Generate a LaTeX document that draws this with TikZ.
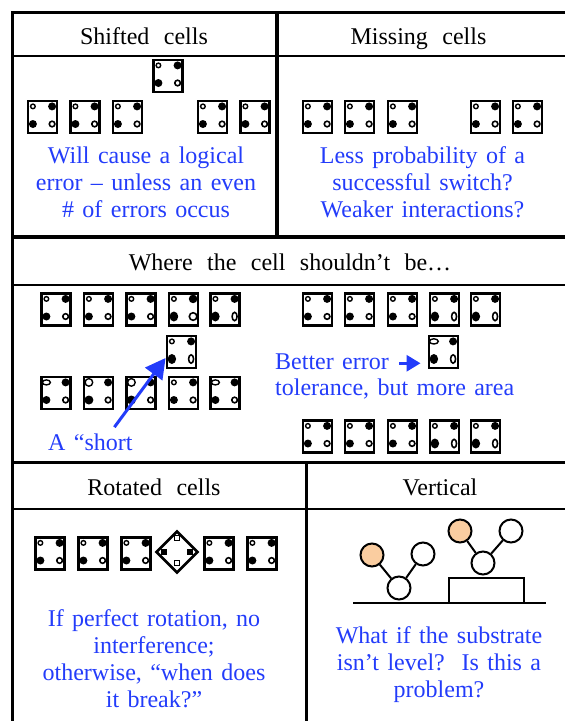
\documentclass[tikz,border=0pt]{standalone}
\usepackage{fontspec}
\setmainfont{Liberation Serif}[WordSpace=1.4]
\newfontfamily\headfont{Liberation Serif}[WordSpace=2.4]
\usetikzlibrary{arrows.meta,calc,shapes.geometric}

\definecolor{noteblue}{RGB}{35,60,250}
\definecolor{peach}{RGB}{250,205,160}

% a quantum-dot cell: hollow/filled dots, each given as ellipse radii
\tikzset{
  qcell/.style n args={4}{draw, line width=2.9pt, fill=white, inner sep=0pt,
    minimum width=29pt, minimum height=32pt,
    path picture={
      \draw[black, line width=1.4pt] ([shift={(-9.6,-10.6)}]path picture bounding box.center) ellipse (#1);
      \fill[black] ([shift={(9.6,-10.6)}]path picture bounding box.center) ellipse (#2);
      \fill[black] ([shift={(-9.6,7)}]path picture bounding box.center) ellipse (#3);
      \draw[black, line width=1.6pt] ([shift={(9.6,7)}]path picture bounding box.center) ellipse (#4);
    }},
  cell/.style={qcell={2.3pt and 2.3pt}{4pt and 4pt}{4pt and 4pt}{2.8pt and 2.8pt}},
  warpcell/.style={qcell={2.3pt and 2.3pt}{4.3pt and 4.3pt}{4.3pt and 5pt}{3.8pt and 3.8pt}},
  ovalcell/.style={qcell={2.3pt and 2.3pt}{4pt and 4pt}{4.2pt and 5pt}{2.5pt and 4.2pt}},
  flatcell/.style={qcell={4pt and 2.5pt}{4pt and 4pt}{4pt and 4pt}{2.8pt and 2.8pt}},
  bigcell/.style={qcell={3.8pt and 3.8pt}{4pt and 4pt}{4.5pt and 4.5pt}{2.8pt and 2.8pt}},
  skewcell/.style={qcell={4.4pt and 2.6pt}{4pt and 4pt}{4.2pt and 5pt}{2.5pt and 4.2pt}},
}

\begin{document}
\begin{tikzpicture}[
  x=1pt, y=-1pt,
  frame/.style={line width=3.5pt},
  rule/.style={line width=2pt},
  head/.style={font=\headfont\fontsize{24}{27}\selectfont, inner sep=0pt},
  note/.style={text=noteblue, font=\fontsize{24}{27}\selectfont, inner sep=0pt, align=center},
  pointer/.style={draw=noteblue, line width=3pt, -{Triangle[length=20pt,width=21pt]}},
  smallpointer/.style={draw=noteblue, line width=3pt, -{Triangle[length=14pt,width=16pt]}},
  rotcell/.style={diamond, shape aspect=1, draw, line width=2.6pt, fill=white,
    inner sep=0pt, minimum size=42pt,
    path picture={
      \draw[black, line width=1.3pt] ([shift={(0,-14)}]path picture bounding box.center) +(-2.3,-2.3) rectangle +(2.3,2.3);
      \fill[black] ([shift={(-13,0)}]path picture bounding box.center) +(-3.4,-3.4) rectangle +(3.4,3.4);
      \fill[black] ([shift={(13,0)}]path picture bounding box.center) +(-3.4,-3.4) rectangle +(3.4,3.4);
      \draw[black, line width=1.3pt] ([shift={(0,11)}]path picture bounding box.center) +(-2.3,-2.3) rectangle +(2.3,2.3);
    }},
  ring/.style={circle, draw, line width=2pt, fill=white, minimum size=23pt, inner sep=0pt},
  bond/.style={line width=2pt},
  ]

  \useasboundingbox (0,0) rectangle (565,721);
  \clip (0,0) rectangle (565,721);

  % table rules
  \draw[frame] (12.5,760) -- (12.5,12.5) -- (600,12.5);
  \draw[frame] (12.5,237) -- (600,237);
  \draw[frame] (12.5,462.5) -- (600,462.5);
  \draw[frame] (277,12.5) -- (277,237);
  \draw[frame] (306.5,462.5) -- (306.5,760);
  \draw[rule] (12.5,55.5) -- (600,55.5);
  \draw[rule] (12.5,285) -- (600,285);
  \draw[rule] (12.5,509) -- (600,509);

  \node[head, anchor=base] (shifted) at (144,44.5) {Shifted cells};
  \node[head, anchor=base] (missing) at (418.5,44.5) {Missing cells};
  \node[head, anchor=base] (where) at (290,270) {Where the cell shouldn’t be…};
  \node[head, anchor=base] (rotated) at (154,495) {Rotated cells};
  \node[head, anchor=base] (vertical) at (440,495) {Vertical};

  % shifted / missing
  \foreach \x [count=\i] in {42.5,85,127.5,212.5,255}
    \node[cell] (sh\i) at (\x,117) {};
  \node[cell] (shup) at (168,76) {};
  \foreach \x [count=\i] in {317.5,359.5,402.5,485.5,527.5}
    \node[cell] (ms\i) at (\x,117) {};

  \node[note, anchor=north] (shnote) at (146,146.6) {Will cause a logical\\error – unless an even\\\# of errors occus};
  \node[note, anchor=north] (msnote) at (422.5,146.6) {Less probability of a\\successful switch?\\Weaker interactions?};

  % stray cell between two rows
  \foreach \x [count=\i] in {56,98.5,141}
    \node[cell] (wt\i) at (\x,309.5) {};
  \node[warpcell] (wt4) at (183.5,309.5) {};
  \node[ovalcell] (wt5) at (225,309.5) {};
  \node[ovalcell] (wmid) at (181.5,352) {};
  \node[flatcell] (wb1) at (56,393) {};
  \node[bigcell] (wb2) at (98.5,393) {};
  \node[bigcell] (wb3) at (141,393) {};
  \node[cell] (wb4) at (183.5,393) {};
  \node[flatcell] (wb5) at (225,393) {};

  \foreach \x [count=\i] in {317.5,359.5,402.5}
  {
    \node[cell] (rt\i) at (\x,309.5) {};
    \node[cell] (rb\i) at (\x,436.5) {};
  }
  \node[ovalcell] (rt4) at (444.5,309.5) {};
  \node[ovalcell] (rt5) at (485.5,309.5) {};
  \node[ovalcell] (rb4) at (444.5,436.5) {};
  \node[ovalcell] (rb5) at (485.5,436.5) {};
  \node[skewcell] (rmid) at (443.5,352) {};

  \node[note, anchor=base west] (short) at (48,450) {A “short};
  \node[note, anchor=base west] (better) at (275,369) {Better error};
  \node[note, anchor=base west] (tol) at (275,395) {tolerance, but more area};

  \draw[pointer] ([xshift=24pt,yshift=6pt]short.north) -- ([yshift=-6pt]wmid.west);
  \draw[smallpointer] ([xshift=10pt,yshift=-2pt]better.east) -- ($(better.east -| rmid.west)+(-7,2)$);

  % rotated
  \foreach \x [count=\i] in {50,93,136,219,262}
    \node[cell] (rc\i) at (\x,553.5) {};
  \node[rotcell] (rturn) at (177,552) {};

  \node[note, anchor=north] (rotnote) at (154,609.6) {If perfect rotation, no\\interference;\\otherwise, “when does\\it break?”};

  % molecules on an uneven substrate
  \node[draw, line width=2pt, fill=white, minimum width=75pt, minimum height=25pt, inner sep=0pt] (ledge) at (486.5,590.5) {};
  \draw[bond] (353,603) -- (546,603);
  \node[ring, fill=peach] (la) at (372,555) {};
  \node[ring] (lb) at (423,554) {};
  \node[ring] (lc) at (399,588) {};
  \node[ring, fill=peach] (ra) at (460,531) {};
  \node[ring] (rb) at (511,531) {};
  \node[ring] (rc) at (483,563) {};
  \draw[bond] (lc) -- (la) (lc) -- (lb);
  \draw[bond] (rc) -- (ra) (rc) -- (rb);

  \node[note, anchor=north] (vertnote) at (439,626.6) {What if the substrate\\isn’t level?\ \ Is this a\\problem?};

\end{tikzpicture}
\end{document}
